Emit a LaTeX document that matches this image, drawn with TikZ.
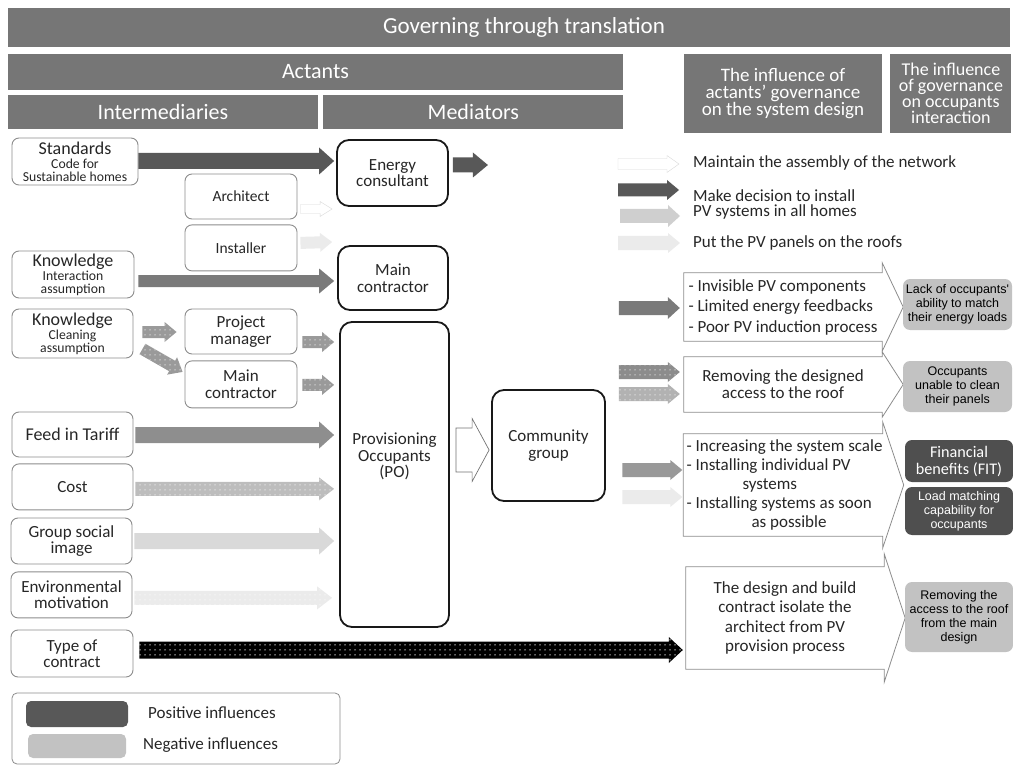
\documentclass[tikz,border=0pt]{standalone}
\usepackage{fontspec}
\setmainfont{Carlito}
\newfontfamily\arialfont{Liberation Sans}
\usepackage{tikz}
\usetikzlibrary{calc, patterns.meta, positioning}

\definecolor{hdrgray}{HTML}{767676}
\definecolor{boxgray}{HTML}{8C8C8C}
\definecolor{dkarrow}{HTML}{585858}
\definecolor{mdarrow}{HTML}{7A7A7A}
\definecolor{ftarrow}{HTML}{8E8E8E}
\definecolor{dotgray}{HTML}{9A9A9A}
\definecolor{ltarrow}{HTML}{CFCFCF}
\definecolor{paleflow}{HTML}{EBEBEB}
\definecolor{ltout}{HTML}{C2C2C2}
\definecolor{dkout}{HTML}{4F4F4F}

\newcommand\keyword[1]{{\fontsize{18}{18}\selectfont #1}}

\tikzstyle{hdr} = [rectangle, fill=hdrgray, text=white, inner sep=0pt, align=center,
    font=\fontsize{22}{24}\selectfont]
\tikzstyle{actor} = [rectangle, rounded corners=7pt, draw=boxgray, line width=0.9pt,
    align=center, inner sep=0pt, text=black!85, font=\fontsize{17}{16.5}\selectfont]
\tikzstyle{actorsub} = [actor, font=\fontsize{13.7}{13}\selectfont]
\tikzstyle{mediator} = [rectangle, rounded corners=12pt, draw=black!90, line width=1.8pt,
    align=center, inner sep=0pt, text=black!85, font=\fontsize{17}{16.5}\selectfont]
\tikzstyle{effect} = [rectangle, inner sep=0pt, text=black!85, minimum width=198pt]
\tikzstyle{chevron} = [draw=boxgray, line width=0.8pt]
\tikzstyle{outcome} = [rectangle, rounded corners=7pt, fill=ltout, align=center, inner sep=0pt,
    minimum width=109pt, font=\arialfont\fontsize{12.5}{14}\selectfont]
\tikzstyle{outcomedk} = [outcome, fill=dkout, text=white]
\tikzstyle{legendtext} = [inner sep=0pt, anchor=west, text=black!85, font=\fontsize{17}{15}\selectfont]
\tikzstyle{swatch} = [rectangle, rounded corners=5pt, inner sep=0pt]

\tikzset{
  shaft w/.store in=\shaftw, head w/.store in=\headw, head l/.store in=\headl,
  shaft w=8, head w=13.5, head l=15,
  block/.style={to path={let \p1=(\tikztostart), \p2=(\tikztotarget),
      \n1={atan2(\y2-\y1,\x2-\x1)}, \p3=($(\p2)+(\n1+180:\headl pt)$) in
      ($(\p1)+(\n1+90:\shaftw pt)$) -- ($(\p3)+(\n1+90:\shaftw pt)$)
      -- ($(\p3)+(\n1+90:\headw pt)$) -- (\p2) -- ($(\p3)+(\n1-90:\headw pt)$)
      -- ($(\p3)+(\n1-90:\shaftw pt)$) -- ($(\p1)+(\n1-90:\shaftw pt)$) -- cycle}},
  small/.style={shaft w=6, head w=10, head l=12},
  dotfill/.style={preaction={fill=#1}, pattern={Dots[distance=5pt, radius=0.75pt]},
      pattern color=white!60!#1}
}

\begin{document}
\begin{tikzpicture}[x=1pt, y=-1pt]
    \useasboundingbox (0,0) rectangle (1013,765);
    % Headers
    \node[hdr, minimum width=1002pt, minimum height=39pt, font=\fontsize{23}{24}\selectfont]
        (title) at (509,27.5) {\hspace*{30pt}Governing through translation};
    \node[hdr, minimum width=615pt, minimum height=36pt] (actants) at (315.5,72) {Actants};
    \node[hdr, minimum width=310pt, minimum height=34pt] (interm) at (163,112) {Intermediaries};
    \node[hdr, minimum width=300pt, minimum height=34pt, right=5pt of interm] (mediat) {Mediators};
    \node[hdr, minimum width=198pt, minimum height=79pt, font=\fontsize{19}{17}\selectfont]
        (infl1) at (783,93.5) {The influence of\\actants’ governance\\on the system design};
    \node[hdr, minimum width=121pt, minimum height=79pt, font=\fontsize{18}{16}\selectfont,
        right=8pt of infl1] (infl2) {The influence\\of governance\\on occupants\\interaction};

    % Intermediaries
    \node[actorsub, minimum width=126pt, minimum height=47pt] (std) at (75,161.5)
        {\keyword{Standards}\\[1pt]Code for\\Sustainable homes};
    \node[actor, minimum width=112pt, minimum height=45pt, font=\fontsize{15.5}{16}\selectfont]
        (arch) at (241,196.5) {Architect};
    \node[actor, minimum width=112pt, minimum height=46pt, font=\fontsize{15.5}{16}\selectfont,
        below=5pt of arch] (inst) {Installer};
    \node[actorsub, minimum width=122pt, minimum height=47pt] (kn1) at (73,274.5)
        {\keyword{Knowledge}\\[1pt]Interaction\\assumption};
    \node[actorsub, minimum width=121pt, minimum height=49pt] (kn2) at (72.5,333.5)
        {\keyword{Knowledge}\\[1pt]Cleaning\\assumption};
    \node[actor, minimum width=112pt, minimum height=45pt] (pm) at (241,331.5) {Project\\manager};
    \node[actor, minimum width=112pt, minimum height=47pt, below=6pt of pm] (mc2) {Main\\contractor};
    \node[actor, minimum width=121pt, minimum height=45pt, font=\fontsize{18}{17}\selectfont]
        (fit) at (72.5,434.5) {Feed in Tariff};
    \node[actor, minimum width=121pt, minimum height=46pt, below=6pt of fit] (cost) {Cost};
    \node[actor, minimum width=121pt, minimum height=46pt] (gsi) at (71.5,541) {Group social\\image};
    \node[actor, minimum width=121pt, minimum height=46pt, below=7pt of gsi] (env) {Environmental\\motivation};
    \node[actor, minimum width=122pt, minimum height=47pt] (toc) at (72,653.5) {Type of\\contract};

    % Mediators
    \node[mediator, minimum width=111pt, minimum height=66pt] (ec) at (392.5,173) {Energy\\consultant};
    \node[mediator, minimum width=110pt, minimum height=64pt] (mc) at (393,278) {Main\\contractor};
    \node[mediator, minimum width=109pt, minimum height=305pt,
        label={[align=center, text=black!85, font=\fontsize{17}{16.5}\selectfont, yshift=18pt]center:Provisioning\\Occupants\\(PO)}]
        (po) at (394.5,474.5) {};
    \node[mediator, minimum width=113pt, minimum height=111pt] (cg) at (548.5,445.5) {Community\\group};

    % Key of the influences on the design
    \node[legendtext] (keep) at (693,163) {Maintain the assembly of the network};
    \node[legendtext, align=left] (decide) at (693,204.5) {Make decision to install\\PV systems in all homes};
    \node[legendtext] (put) at (693,243) {Put the PV panels on the roofs};

    % Effects on the system design
    \node[effect, minimum height=68pt, align=left, font=\fontsize{17}{20.5}\selectfont] (b1) at (783,307)
        {- Invisible PV components\\- Limited energy feedbacks\\- Poor PV induction process};
    \node[effect, minimum height=55pt, align=center, font=\fontsize{17}{17}\selectfont] (b2) at (783,384.5)
        {Removing the designed\\access to the roof};
    \node[effect, minimum height=102pt, align=left, font=\fontsize{17}{19}\selectfont] (b3) at (783,485)
        {\hspace*{3pt}- Increasing the system scale\\\hspace*{3pt}- Installing individual PV\\\hspace*{59pt}systems\\\hspace*{3pt}- Installing systems as soon\\\hspace*{68pt}as possible};
    \node[effect, minimum height=102pt, align=center, font=\fontsize{17}{19.3}\selectfont] (b4) at (785,618)
        {The design and build\\contract isolate the\\architect from PV\\provision process};
    \foreach \b/\o in {b1/10, b2/5, b3/12, b4/13}
        \draw[chevron] (\b.north west) -- (\b.north east) -- ++(0,-\o) -- ($(\b.east)+(21,0)$)
            -- ($(\b.south east)+(0,\o)$) -- (\b.south east) -- (\b.south west) -- cycle;

    % Effects on occupants interaction
    \node[outcome, minimum height=51pt] (lack) at (957.5,304.5) {Lack of occupants'\\ability to match\\their energy loads};
    \node[outcome, minimum height=51pt] (unable) at (957.5,386.5) {Occupants\\unable to clean\\their panels};
    \node[outcomedk, minimum width=108pt, minimum height=42pt, font=\fontsize{16.2}{17}\selectfont]
        (fitben) at (959,461) {Financial\\benefits (FIT)};
    \node[outcomedk, minimum width=108pt, minimum height=48pt] (load) at (959,511) {Load matching\\capability for\\occupants};
    \node[outcome, minimum width=108pt, minimum height=70pt] (remove) at (959,617) {Removing the\\access to the roof\\from the main\\design};

    % Legend
    \node[draw=boxgray, line width=0.8pt, rounded corners=5pt, minimum width=328pt, minimum height=71pt]
        (legend) at (176,728.5) {};
    \node[swatch, fill=dkarrow, minimum width=102pt, minimum height=26pt] (pos) at (77,714) {};
    \node[swatch, fill=ltout, minimum width=98pt, minimum height=24pt] (neg) at (77,746) {};
    \node[legendtext] (postxt) at (148,713) {Positive influences};
    \node[legendtext] (negtxt) at (143,745) {Negative influences};

    % Arrows
    \path[block, fill=dkarrow] ($(std.east)+(0,-0.5)$) to ($(ec.west)+(-2,-12)$);
    \path[block, fill=dkarrow, shaft w=7.5, head w=12.5] ($(ec.east)+(4,-8)$) to ($(ec.east)+(39,-8)$);
    \path[block, small, fill=white, draw=black!15, shaft w=4.5, head w=7.5] ($(arch.east)+(3,12.5)$) to ($(ec.west)+(-4,36)$);
    \path[block, small, fill=paleflow, head w=9.5] ($(inst.east)+(3,-5)$) to ($(mc.west)+(-5,-36)$);
    \path[block, fill=mdarrow, shaft w=6, head w=12.5] ($(kn1.east)+(4,6.5)$) to ($(mc.west)+(-3,3)$);
    \path[block, small, dotfill=dotgray] ($(kn2.east)+(9,-1.5)$) to ($(pm.west)+(-8,0.5)$);
    \path[block, small, dotfill=dotgray] ($(kn2.east)+(9,15.5)$) to ($(mc2.west)+(-2,-12.5)$);
    \path[block, small, dotfill=dotgray] ($(pm.east)+(5,10.5)$) to ($(po.west |- pm.east)+(-5,10.5)$);
    \path[block, small, dotfill=dotgray] ($(mc2.east)+(5,0.5)$) to ($(po.west |- mc2.east)+(-5,0.5)$);
    \path[block, fill=ftarrow] ($(fit.east)+(2,0.5)$) to ($(po.west |- fit.east)+(-5,0.5)$);
    \path[block, dotfill=black!26, shaft w=7, head w=11.5] ($(cost.east)+(2,2)$) to ($(po.west |- cost.east)+(-5,2)$);
    \path[block, fill=black!15] ($(gsi.east)+(2,0)$) to ($(po.west |- gsi.east)+(-5,0)$);
    \path[block, dotfill=paleflow, shaft w=7, head w=11.5] ($(env.east)+(2,3)$) to ($(po.west |- env.east)+(-7,3)$);
    \path[block, dotfill=black, pattern color=white!80!black, shaft w=8.5, head w=13, head l=14]
        ($(toc.east)+(6,-3.5)$) to ($(b4.west |- toc.east)+(-3,-3.5)$);
    \path[block, fill=white, draw=black!55, line width=0.7pt, shaft w=22, head w=31.5, head l=17]
        ($(po.east)+(6,-24.5)$) to ($(cg.west)+(-2,4.5)$);

    % Arrows of the key
    \path[block, small, fill=white, draw=black!15, shaft w=5.5, head w=8.5] ($(keep.west)+(-75,1)$) to ($(keep.west)+(-14,1)$);
    \path[block, small, fill=dkarrow, shaft w=6.5, head w=10] ($(decide.west)+(-75,-14.5)$) to ($(decide.west)+(-14,-14.5)$);
    \path[block, small, fill=ltarrow, shaft w=7, head w=11] ($(decide.west)+(-73,11.5)$) to ($(decide.west)+(-13,11.5)$);
    \path[block, small, fill=paleflow, shaft w=7, head w=10] ($(put.west)+(-75,0)$) to ($(put.west)+(-13,0)$);

    % Arrows into the design effects
    \path[block, small, fill=mdarrow, shaft w=7, head w=11] ($(b1.west)+(-65,1)$) to ($(b1.west)+(-4,1)$);
    \path[block, small, dotfill=boxgray, shaft w=7] ($(b2.west)+(-65,-12.5)$) to ($(b2.west)+(-4,-12.5)$);
    \path[block, small, dotfill=black!30, shaft w=7] ($(b2.west)+(-65,9.5)$) to ($(b2.west)+(-4,9.5)$);
    \path[block, small, fill=black!40, shaft w=7] ($(b3.west)+(-61,-15)$) to ($(b3.west)+(-1,-15)$);
    \path[block, small, fill=paleflow, shaft w=7] ($(b3.west)+(-61,12)$) to ($(b3.west)+(-1,12)$);
\end{tikzpicture}
\end{document}
